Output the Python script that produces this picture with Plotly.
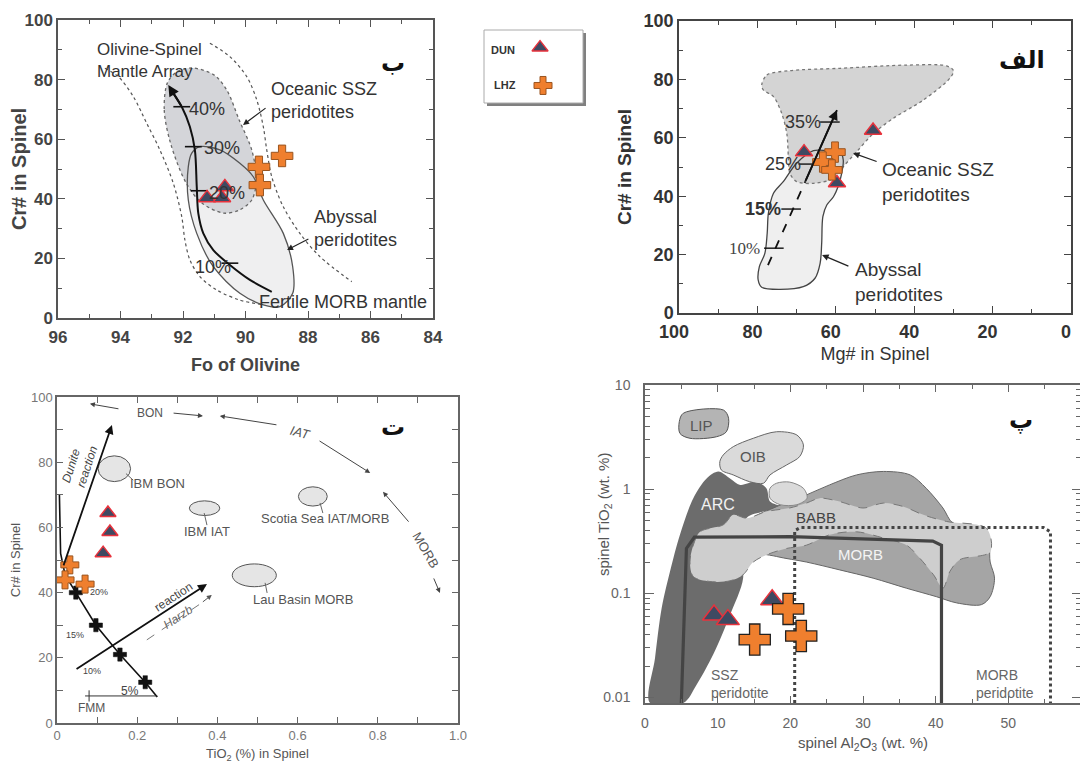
import math
import plotly.graph_objects as go

# page is shown with the browser's default 8px body margin -> draw in a figure offset by 8px
OFF = 8
FIG_W, FIG_H = 1088 - OFF, 763 - OFF

# ======================= DATA =======================
# ---- Panel ب : Fo of olivine vs Cr# in spinel ----
p1_dun_fo = [91.23, 90.75, 90.66]
p1_dun_cr = [40.3, 40.3, 44.0]
p1_lhz_fo = [89.57, 89.54, 88.83]
p1_lhz_cr = [50.7, 44.6, 54.4]

p1_oma_left_fo = [94.5, 94.07, 93.59, 93.16, 92.74, 92.31, 92.04, 91.94, 91.78, 91.46, 90.92, 90.18, 89.43]
p1_oma_left_cr = [83.8, 81.0, 74.3, 65.3, 56.4, 45.2, 34.0, 26.2, 19.5, 13.9, 9.4, 6.0, 4.4]
p1_oma_right_fo = [91.14, 90.5, 89.96, 89.64, 89.43, 89.32, 89.16, 88.79, 88.26, 87.62, 86.6]
p1_oma_right_cr = [92.2, 87.7, 81.0, 73.2, 64.2, 56.4, 47.4, 37.3, 28.4, 20.6, 12.2]

p1_ssz_fo = [92.5, 92.6, 92.4, 91.9, 91.4, 90.7, 90.2, 89.8, 89.65, 89.8, 90.2, 90.6, 91.0, 91.7, 92.2]
p1_ssz_cr = [78.9, 69.8, 58.7, 45.3, 38.6, 35.2, 36.2, 39.6, 46.3, 56.4, 66.4, 76.5, 81.5, 83.9, 82.6]
p1_aby_fo = [91.46, 90.82, 90.18, 89.75, 89.43, 88.79, 88.49, 88.49, 88.9, 89.43, 90.18, 91.03, 91.56, 91.83, 91.83, 91.72]
p1_aby_cr = [57.5, 56.4, 51.9, 47.4, 39.6, 28.4, 17.2, 8.3, 3.8, 4.4, 8.3, 17.2, 28.4, 39.6, 50.8, 55.3]

p1_melt_fo = [89.16, 89.86, 90.5, 91.03, 91.35, 91.51, 91.56, 91.62, 91.78, 92.04, 92.31, 92.47]
p1_melt_cr = [8.8, 12.8, 17.8, 22.8, 28.4, 35.1, 44.1, 56.4, 64.2, 70.9, 75.4, 78.2]
p1_mtick_fo = [90.5, 91.48, 91.67, 92.04]
p1_mtick_cr = [18.4, 42.7, 57.5, 70.9]
p1_mtick_lbl = ["10%", "20%", "30%", "40%"]
p1_mlbl_fo = [91.68, 91.23, 91.39, 91.87]
p1_mlbl_cr = [17.1, 42.1, 56.9, 70.3]

# ---- Panel الف : Mg# vs Cr# in spinel ----
p2_dun_mg = [68.1, 50.5, 59.7]
p2_dun_cr = [55.1, 62.5, 44.5]
p2_lhz_mg = [60.2, 63.3, 61.0]
p2_lhz_cr = [55.1, 51.7, 49.0]

p2_ssz_mg = [78.9, 77.6, 71.7, 58.9, 41.9, 31.7, 30.0, 30.9, 37.7, 45.3, 50.4, 54.7, 58.1, 60.6, 65.7, 70.0, 71.7, 72.1, 72.5, 73.8, 75.9, 78.5]
p2_ssz_cr = [78.1, 81.5, 83.0, 83.8, 84.9, 84.6, 83.0, 80.4, 72.9, 66.7, 61.5, 55.2, 50.1, 46.1, 44.4, 45.0, 47.8, 53.5, 61.5, 68.4, 74.1, 76.4]
p2_aby_mg = [62.3, 65.7, 70.0, 73.4, 75.9, 77.2, 77.5, 78.1, 79.5, 79.8, 78.9, 74.2, 68.3, 65.3, 64.0, 63.6, 63.3, 62.3, 60.6, 59.4, 58.5, 58.1, 58.9]
p2_aby_cr = [55.6, 55.6, 51.3, 45.0, 41.0, 34.1, 27.3, 20.4, 15.9, 11.3, 8.8, 8.1, 9.0, 11.9, 17.0, 23.9, 33.0, 37.0, 39.8, 43.3, 47.8, 52.4, 55.2]

p2_trend_mg = [77.3, 67.8, 59.7]
p2_trend_cr = [16.4, 45.0, 69.5]
p2_mtick_mg = [75.8, 71.4, 67.0, 61.5]
p2_mtick_cr = [22.2, 35.6, 51.0, 65.4]
p2_mtick_lbl = ["10%", "15%", "25%", "35%"]
p2_mlbl_mg = [78.8, 73.5, 68.4, 63.3]

# ---- Panel ت : TiO2 vs Cr# in spinel ----
p3_dun_ti = [0.127, 0.132, 0.115]
p3_dun_cr = [64.4, 58.6, 52.1]
p3_lhz_ti = [0.032, 0.020, 0.070]
p3_lhz_cr = [48.5, 43.9, 42.6]

p3_melt_ti = [0.25, 0.22, 0.157, 0.097, 0.047, 0.02, 0.009, 0.006]
p3_melt_cr = [8.0, 12.5, 21.0, 30.0, 40.0, 45.5, 52.0, 70.0]
p3_mcross_ti = [0.22, 0.157, 0.097, 0.047]
p3_mcross_cr = [12.5, 21.0, 30.0, 40.0]
p3_mlbl_ti = [0.182, 0.087, 0.045, 0.105]
p3_mlbl_cr = [9.8, 16.0, 27.0, 40.2]
p3_mlbl = ["5%", "10%", "15%", "20%"]
p3_fmm_ti = [0.07, 0.25]
p3_fmm_cr = [8.3, 8.3]

p3_field_name = ["IBM BON", "IBM IAT", "Scotia Sea IAT/MORB", "Lau Basin MORB"]
p3_field_ti = [0.143, 0.368, 0.638, 0.492]
p3_field_cr = [78.0, 65.9, 69.5, 45.3]
p3_field_wti = [0.081, 0.076, 0.072, 0.110]
p3_field_hcr = [7.9, 4.5, 5.9, 7.0]
p3_label_ti = [0.177, 0.374, 0.668, 0.614]
p3_label_cr = [73.6, 58.6, 62.8, 38.0]

# ---- Panel پ : Al2O3 vs TiO2 in spinel ----
p4_dun_al = [9.5, 11.4, 17.5]
p4_dun_ti = [0.062, 0.056, 0.087]
p4_lhz_al = [19.7, 15.1, 21.5]
p4_lhz_ti = [0.071, 0.036, 0.039]

p4_lip_al = [5.27, 10.8, 11.5, 11.2, 9.86, 6.19, 4.81, 4.72]
p4_lip_ti = [5.36, 5.75, 4.8, 3.56, 3.19, 3.08, 3.43, 4.45]
p4_oib_al = [10.77, 12.15, 14.9, 18.1, 20.9, 21.8, 21.3, 19.5, 17.2, 16.3, 14.4, 12.15, 10.5, 10.3]
p4_oib_ti = [2.13, 2.56, 3.08, 3.56, 3.31, 2.66, 2.06, 1.71, 1.37, 1.14, 1.18, 1.37, 1.53, 1.84]
p4_blob_al = [17.2, 18.1, 19.9, 21.8, 22.3, 20.9, 18.6, 17.2]
p4_blob_ti = [1.02, 1.14, 1.17, 1.02, 0.82, 0.71, 0.71, 0.82]
p4_arc_al = [0.69, 1.38, 2.29, 3.44, 4.81, 6.65, 8.48, 10.1, 11.7, 13.1, 15.3, 16.7, 17.2, 18.6, 16.3, 13.98, 13.1, 13.5, 11.7, 9.4, 7.1, 5.27]
p4_arc_ti = [0.00887, 0.024, 0.072, 0.162, 0.365, 0.82, 1.27, 1.48, 1.27, 1.10, 1.18, 1.02, 0.76, 0.68, 0.61, 0.53, 0.27, 0.14, 0.062, 0.026, 0.0133, 0.00887]
p4_morb_al = [18.1, 22.2, 25.4, 29.1, 32.8, 36.5, 38.7, 41.0, 42.4, 47.0, 47.5, 48.1, 47.5, 46.3, 42.9, 40.1, 36.0, 31.4, 26.8, 22.2, 18.1, 14.4, 14.4]
p4_morb_ti = [0.68, 0.88, 1.10, 1.37, 1.48, 1.37, 1.02, 0.66, 0.47, 0.39, 0.20, 0.14, 0.093, 0.078, 0.081, 0.093, 0.112, 0.14, 0.168, 0.20, 0.226, 0.27, 0.49]
p4_babb_al = [7.57, 10.77, 12.15, 13.98, 16.7, 19.9, 22.2, 24.07, 26.8, 30.0, 32.8, 35.6, 38.3, 41.5, 47.0, 47.5, 43.3, 41.95, 41.0, 39.7, 37.8, 36.0, 32.8, 29.1, 25.4, 22.2, 19.5, 16.7, 14.9, 13.5, 11.7, 8.94, 6.65, 6.19, 6.65]
p4_babb_ti = [0.39, 0.455, 0.567, 0.527, 0.61, 0.66, 0.735, 0.82, 0.76, 0.66, 0.735, 0.68, 0.567, 0.49, 0.42, 0.25, 0.21, 0.162, 0.112, 0.151, 0.218, 0.29, 0.34, 0.39, 0.365, 0.29, 0.27, 0.234, 0.20, 0.151, 0.132, 0.130, 0.145, 0.20, 0.29]
p4_sszbox_al = [5.0, 5.7, 6.8, 20.0, 39.6, 40.8, 40.8]
p4_sszbox_ti = [0.00887, 0.27, 0.347, 0.35, 0.318, 0.29, 0.00887]
p4_morbbox_al = [20.6, 20.6, 21.4, 54.8, 55.8, 55.8]
p4_morbbox_ti = [0.00887, 0.40, 0.43, 0.43, 0.39, 0.00887]

# ======================= STYLE =======================
TRI_FILL, TRI_LINE = "#3e4a62", "#e8323c"
CR_FILL, CR_LINE = "#ef7f2e", "#9a5520"
SANS = "Liberation Sans, Arial, sans-serif"
SERIF = "Liberation Serif, Times New Roman, serif"
ARAB = "DejaVu Sans, Noto Sans, sans-serif"

# plot areas in page pixels: (x_left, x_right), (y_bottom, y_top)
D = {
    1: ([58, 433], [318, 20]),
    2: ([679, 1071], [313, 21]),
    3: ([57, 458], [723, 397]),
    4: ([645, 1081], [703, 385]),
    5: ([484, 583], [103, 30]),
}


def fx(px):
    return (px - OFF) / FIG_W


def fy(py):
    return 1 - (py - OFF) / FIG_H


def dom(n):
    (x0, x1), (yb, yt) = D[n]
    return [fx(x0), fx(x1)], [fy(yb), fy(yt)]


def ax(n):
    return ("x" if n == 1 else f"x{n}", "y" if n == 1 else f"y{n}")


fig = go.Figure()
ann = []
shapes = []


def poly(n, xs, ys, fill=None, lc=None, dash="solid", width=1.0, spline=True, close=True):
    xa, ya = ax(n)
    xs, ys = list(xs), list(ys)
    if close:
        xs, ys = xs + [xs[0]], ys + [ys[0]]
    fig.add_trace(go.Scatter(
        x=xs, y=ys, xaxis=xa, yaxis=ya, mode="lines",
        fill="toself" if fill else "none", fillcolor=fill,
        line=dict(color=lc or "rgba(0,0,0,0)", width=width if lc else 0, dash=dash,
                  shape="spline" if spline else "linear", smoothing=0.9),
        hoverinfo="skip", showlegend=False))


def mk(n, xs, ys, symbol, size, fill, lc, lw):
    xa, ya = ax(n)
    fig.add_trace(go.Scatter(
        x=xs, y=ys, xaxis=xa, yaxis=ya, mode="markers",
        marker=dict(symbol=symbol, size=size, color=fill, line=dict(color=lc, width=lw)),
        hoverinfo="skip", showlegend=False))


def txt(n, x, y, text, size, color="#333", xa_="center", ya_="middle", angle=0,
        family=SANS, weight="normal", style="normal"):
    xr, yr = ax(n)
    ann.append(dict(x=x, y=y, xref=xr, yref=yr, text=text, showarrow=False,
                    xanchor=xa_, yanchor=ya_, textangle=angle, align="left",
                    font=dict(family=family, size=size, color=color, weight=weight, style=style)))


def arrow(n, tail, head, width=1.2, color="#222", head_style=2, size=1.0):
    xr, yr = ax(n)
    ann.append(dict(x=head[0], y=head[1], ax=tail[0], ay=tail[1], xref=xr, yref=yr,
                    axref=xr, ayref=yr, text="", showarrow=True, arrowhead=head_style,
                    arrowsize=size, arrowwidth=width, arrowcolor=color))


# ======================= PANEL 1 (ب) =======================
poly(1, p1_oma_left_fo, p1_oma_left_cr, lc="#555", dash="dot", width=1.2, close=False)
poly(1, p1_oma_right_fo, p1_oma_right_cr, lc="#555", dash="dot", width=1.2, close=False)
poly(1, p1_aby_fo, p1_aby_cr, fill="#efeff0")
poly(1, p1_ssz_fo, p1_ssz_cr, fill="#d4d5d9", lc="#666", dash="dot", width=1.3)
poly(1, p1_aby_fo, p1_aby_cr, lc="#555", width=1.3)
poly(1, p1_melt_fo[:-1], p1_melt_cr[:-1], lc="#111", width=2, close=False)
arrow(1, (p1_melt_fo[-3], p1_melt_cr[-3]), (p1_melt_fo[-1], p1_melt_cr[-1]), width=2, color="#111", size=1.1)
mk(1, p1_mtick_fo, p1_mtick_cr, "line-ew", 12, "#111", "#111", 1.6)
for xx, yy, t in zip(p1_mlbl_fo, p1_mlbl_cr, p1_mtick_lbl):
    txt(1, xx, yy, t, 18, "#333", xa_="left")
mk(1, p1_dun_fo, p1_dun_cr, "triangle-up", 15, TRI_FILL, TRI_LINE, 1.5)
mk(1, p1_lhz_fo, p1_lhz_cr, "cross", 18, CR_FILL, CR_LINE, 1)

txt(1, 94.82, 94, "Olivine-Spinel<br>Mantle Array", 17, "#333", xa_="left", ya_="top")
txt(1, 89.25, 81, "Oceanic SSZ<br>peridotites", 18, "#333", xa_="left", ya_="top")
txt(1, 87.87, 38, "Abyssal<br>peridotites", 18, "#333", xa_="left", ya_="top")
txt(1, 89.63, 5.4, "Fertile MORB mantle", 18, "#333", xa_="left")
txt(1, 85.28, 85.6, "ب", 24, "#111", family=ARAB, weight="bold")
arrow(1, (89.31, 70.8), (90.08, 64.8), width=1.2, color="#222")
arrow(1, (87.94, 26.8), (88.67, 22.8), width=1.2, color="#222")

# ======================= PANEL 2 (الف) =======================
poly(2, p2_aby_mg, p2_aby_cr, fill="#efefef")
poly(2, p2_ssz_mg, p2_ssz_cr, fill="#d4d4d4", lc="#777", dash="dot", width=1.3)
poly(2, p2_aby_mg, p2_aby_cr, lc="#444", width=1.3)
poly(2, p2_trend_mg[:2], p2_trend_cr[:2], lc="#111", dash="dash", width=1.8, spline=False, close=False)
poly(2, p2_trend_mg[1:], p2_trend_cr[1:], lc="#111", width=1.8, spline=False, close=False)
arrow(2, (p2_trend_mg[1], p2_trend_cr[1]), (p2_trend_mg[2], p2_trend_cr[2]), width=1.8, color="#111", size=1.1)
mk(2, p2_mtick_mg, p2_mtick_cr, "line-ew", 14, "#111", "#111", 1.4)
for xx, yy, t in zip(p2_mlbl_mg, p2_mtick_cr, p2_mtick_lbl):
    if t == "10%":
        txt(2, xx, yy, t, 17, "#444", xa_="right", family=SERIF)
    else:
        txt(2, xx, yy, t, 18, "#333", xa_="right", weight="bold" if t == "15%" else "normal")
mk(2, p2_dun_mg, p2_dun_cr, "triangle-up", 15, TRI_FILL, TRI_LINE, 1.5)
mk(2, p2_lhz_mg, p2_lhz_cr, "cross", 17, CR_FILL, CR_LINE, 1)
txt(2, 48.7, 53.5, "Oceanic SSZ<br>peridotites", 19, "#333", xa_="left", ya_="top")
txt(2, 55.6, 19.2, "Abyssal<br>peridotites", 19, "#333", xa_="left", ya_="top")
txt(2, 12.5, 86.6, "الف", 24, "#111", family=ARAB, weight="bold")
arrow(2, (49.2, 51.7), (55.6, 54.8), width=1.3, color="#222")
arrow(2, (56.4, 15.8), (63.5, 19.9), width=1.3, color="#222")

# ======================= PANEL 3 (ت) =======================
for cx, cy, w, h in zip(p3_field_ti, p3_field_cr, p3_field_wti, p3_field_hcr):
    shapes.append(dict(type="circle", xref="x3", yref="y3", x0=cx - w / 2, x1=cx + w / 2,
                       y0=cy - h / 2, y1=cy + h / 2, fillcolor="#e5e5e5",
                       line=dict(color="#555", width=1), layer="below"))
for name, lx, ly in zip(p3_field_name, p3_label_ti, p3_label_cr):
    txt(3, lx, ly, name, 13, "#555", xa_="left" if name == "IBM BON" else "center")
poly(3, [0.367, 0.374], [64.4, 60.7], lc="#666", width=1, spline=False, close=False)
poly(3, [0.656, 0.663], [67.5, 64.4], lc="#666", width=1, spline=False, close=False)
poly(3, [0.519, 0.524], [43.0, 39.9], lc="#666", width=1, spline=False, close=False)
poly(3, [0.172, 0.19], [76.5, 74.5], lc="#666", width=1, spline=False, close=False)

poly(3, p3_melt_ti, p3_melt_cr, lc="#111", width=1.6, spline=False, close=False)
poly(3, p3_fmm_ti, p3_fmm_cr, lc="#333", width=1, spline=False, close=False)
mk(3, [0.08], [8.3], "line-ns", 8, "#333", "#333", 1)
mk(3, p3_mcross_ti, p3_mcross_cr, "cross", 11, "#111", "#111", 0.5)
for xx, yy, t in zip(p3_mlbl_ti, p3_mlbl_cr, p3_mlbl):
    txt(3, xx, yy, t, 12 if t == "5%" else 9, "#444")
txt(3, 0.087, 4.6, "FMM", 12, "#555")

arrow(3, (0.015, 47.9), (0.137, 91.4), width=1.8, color="#111", size=1.0)
txt(3, 0.057, 79.5, "Dunite<br>reaction", 12, "#444", angle=-72, style="italic")
arrow(3, (0.045, 16.3), (0.374, 42.6), width=1.8, color="#111", size=1.0)
txt(3, 0.29, 38.7, "reaction", 12, "#444", angle=-33)
poly(3, [0.224, 0.37], [25.5, 37.6], lc="#777", dash="dash", width=1, spline=False, close=False)
arrow(3, (0.36, 36.8), (0.386, 39.3), width=1, color="#555")
txt(3, 0.302, 32.5, "Harzb", 12, "#666", angle=-33, style="italic")

txt(3, 0.232, 95.1, "BON", 12, "#555")
arrow(3, (0.157, 96.3), (0.082, 97.9), width=1, color="#444")
arrow(3, (0.287, 95.1), (0.364, 94.2), width=1, color="#444")
txt(3, 0.606, 89.0, "IAT", 13, "#555", angle=15, style="italic")
arrow(3, (0.551, 91.4), (0.406, 94.2), width=1, color="#444")
arrow(3, (0.651, 86.8), (0.781, 76.7), width=1, color="#444")
txt(3, 0.918, 53.1, "MORB", 13, "#555", angle=60)
arrow(3, (0.880, 61.3), (0.813, 70.9), width=1, color="#444")
arrow(3, (0.938, 44.8), (0.955, 39.9), width=1, color="#444")
txt(3, 0.838, 90.8, "ت", 24, "#111", family=ARAB, weight="bold")

mk(3, p3_dun_ti, p3_dun_cr, "triangle-up", 14, TRI_FILL, TRI_LINE, 1.5)
mk(3, p3_lhz_ti, p3_lhz_cr, "cross", 15, CR_FILL, CR_LINE, 1)

# ======================= PANEL 4 (پ) =======================
poly(4, p4_arc_al, p4_arc_ti, fill="#6c6c6c")
poly(4, p4_morb_al, p4_morb_ti, fill="#a5a5a5", lc="#666", width=1)
poly(4, p4_babb_al, p4_babb_ti, fill="#cecece", lc="#777", dash="dash", width=1)
poly(4, p4_lip_al, p4_lip_ti, fill="#b4b4b4", lc="#555", width=1)
poly(4, p4_oib_al, p4_oib_ti, fill="#dadada", lc="#666", width=1)
poly(4, p4_blob_al, p4_blob_ti, fill="#dadada", lc="#888", width=1)
poly(4, p4_sszbox_al, p4_sszbox_ti, lc="#444", width=3.2, spline=False, close=False)
poly(4, p4_morbbox_al, p4_morbbox_ti, lc="#444", dash="dot", width=3, spline=False, close=False)


def lg(v):
    return math.log10(v)


txt(4, 7.8, lg(4.13), "LIP", 15, "#555")
txt(4, 14.9, lg(2.06), "OIB", 15, "#555")
txt(4, 10.1, lg(0.71), "ARC", 16, "#f2f2f2")
txt(4, 23.6, lg(0.53), "BABB", 15, "#444")
txt(4, 29.6, lg(0.234), "MORB", 15, "#f4f4f4")
txt(4, 13.1, lg(0.0135), "SSZ<br>peridotite", 14, "#666")
txt(4, 49.5, lg(0.0135), "MORB<br>peridotite", 14, "#666")
txt(4, 51.8, lg(4.6), "پ", 24, "#111", family=ARAB, weight="bold")

mk(4, p4_dun_al, p4_dun_ti, "triangle-up", 20, TRI_FILL, TRI_LINE, 1.5)
mk(4, p4_lhz_al, p4_lhz_ti, "cross", 26, CR_FILL, "#222", 1.3)

# y title of panel 4 placed like the reference (closer than the tick labels allow)
ann.append(dict(x=fx(604), y=fy(515), xref="paper", yref="paper", text="spinel TiO<sub>2</sub> (wt. %)",
                showarrow=False, textangle=-90, xanchor="center", yanchor="middle",
                font=dict(family=SANS, size=15, color="#555")))

# ======================= LEGEND =======================
(lpx0, lpx1), (lpy1, lpy0) = D[5]
shapes.append(dict(type="rect", xref="paper", yref="paper", x0=fx(lpx0 + 3), x1=fx(lpx1 + 3),
                   y0=fy(lpy1 + 3), y1=fy(lpy0 + 3), fillcolor="#808080", line=dict(width=0), layer="below"))
shapes.append(dict(type="rect", xref="paper", yref="paper", x0=fx(lpx0), x1=fx(lpx1), y0=fy(lpy1), y1=fy(lpy0),
                   fillcolor="white", line=dict(color="#aaa", width=1), layer="below"))
mk(5, [0.566], [0.76], "triangle-up", 14, TRI_FILL, TRI_LINE, 1.3)
mk(5, [0.596], [0.24], "cross", 15, CR_FILL, CR_LINE, 1)
txt(5, 0.19, 0.73, "DUN", 11, "#333", weight="bold")
txt(5, 0.21, 0.24, "LHZ", 11, "#333", weight="bold")


# ======================= AXES =======================
def axis_common(rng, tickvals, ticktext, minor_vals, tfont, title, tfont_title, standoff,
                lc="#555", lw=1.5, tlen=7, mlen=4, typ="linear", lblstand=0, lblshift=0):
    return dict(range=rng, tickmode="array", tickvals=tickvals, ticktext=ticktext,
                ticks="inside", ticklen=tlen, tickwidth=1.3, tickcolor=lc,
                minor=dict(tickmode="array", tickvals=minor_vals, ticks="inside", ticklen=mlen,
                           tickwidth=1, tickcolor=lc, showgrid=False),
                showline=True, linecolor=lc, linewidth=lw, mirror="ticks",
                showgrid=False, zeroline=False, tickfont=tfont, automargin=False, type=typ,
                ticklabelstandoff=lblstand, ticklabelshift=lblshift,
                title=dict(text=title, font=tfont_title, standoff=standoff))


f1 = dict(family=SANS, size=17, color="#444", weight="bold")
f1t = dict(family=SANS, size=18, color="#444", weight="bold")
f1ty = dict(family=SANS, size=20, color="#444", weight="bold")
f2 = dict(family=SANS, size=18, color="#333", weight="bold")
f2t = dict(family=SANS, size=18, color="#333")
f2ty = dict(family=SANS, size=19, color="#333", weight="bold")
f3 = dict(family=SANS, size=13, color="#777")
f3t = dict(family=SANS, size=13, color="#555")
f4 = dict(family=SANS, size=14, color="#666")
f4t = dict(family=SANS, size=15, color="#555")

lay = {}
x, y = dom(1)
lay["xaxis"] = dict(axis_common([96, 84], [96, 94, 92, 90, 88, 86, 84], ["96", "94", "92", "90", "88", "86", "84"],
                                [95, 93, 91, 89, 87, 85], f1, "Fo of Olivine", f1t, 12, lblstand=3),
                    domain=x, anchor="y")
lay["yaxis"] = dict(axis_common([0, 100], [0, 20, 40, 60, 80, 100], ["0", "20", "40", "60", "80", "100"],
                                [10, 30, 50, 70, 90], f1, "Cr# in Spinel", f1ty, 1), domain=y, anchor="x")
x, y = dom(2)
lay["xaxis2"] = dict(axis_common([100, 0], [100, 80, 60, 40, 20, 0], ["100", "80", "60", "40", "20", "0"],
                                 [90, 70, 50, 30, 10], f2, "Mg# in Spinel", f2t, 6, lc="#444",
                                 lblstand=2, lblshift=5),
                     domain=x, anchor="y2")
lay["yaxis2"] = dict(axis_common([0, 100], [0, 20, 40, 60, 80, 100], ["0", "20", "40", "60", "80", "100"],
                                 [10, 30, 50, 70, 90], f2, "Cr# in Spinel", f2ty, 7, lc="#444"),
                     domain=y, anchor="x2")
x, y = dom(3)
lay["xaxis3"] = dict(axis_common([0, 1.0], [0, 0.2, 0.4, 0.6, 0.8, 1.0], ["0", "0.2", "0.4", "0.6", "0.8", "1.0"],
                                 [0.1, 0.3, 0.5, 0.7, 0.9], f3, "TiO<sub>2</sub> (%) in Spinel", f3t, 21,
                                 lc="#666", tlen=6, mlen=6), domain=x, anchor="y3")
lay["yaxis3"] = dict(axis_common([0, 100], [0, 20, 40, 60, 80, 100], ["0", "20", "40", "60", "80", "100"],
                                 [10, 30, 50, 70, 90], f3, "Cr# in Spinel", f3t, 8,
                                 lc="#666", tlen=6, mlen=6), domain=y, anchor="x3")
x, y = dom(4)
log_minor = [m * 10 ** e for e in (-3, -2, -1, 0) for m in range(2, 10)]
lay["xaxis4"] = dict(axis_common([0, 60], [0, 10, 20, 30, 40, 50, 60], ["0", "10", "20", "30", "40", "50", "60"],
                                 [5, 15, 25, 35, 45, 55], f4, "spinel Al<sub>2</sub>O<sub>3</sub> (wt. %)", f4t, 8,
                                 lc="#666", tlen=7, mlen=4, lblstand=6), domain=x, anchor="y4")
lay["yaxis4"] = dict(axis_common([math.log10(0.00887), 1], [0.01, 0.1, 1, 10], ["0.01", "0.1", "1", "10"],
                                 log_minor, f4, "", f4t, 2,
                                 lc="#666", tlen=9, mlen=5, typ="log", lblstand=10), domain=y, anchor="x4")
x, y = dom(5)
lay["xaxis5"] = dict(domain=x, anchor="y5", range=[0, 1], visible=False)
lay["yaxis5"] = dict(domain=y, anchor="x5", range=[0, 1], visible=False)

fig.update_layout(
    width=FIG_W, height=FIG_H, margin=dict(l=0, r=0, t=0, b=0),
    paper_bgcolor="white", plot_bgcolor="rgba(0,0,0,0)", showlegend=False,
    annotations=ann, shapes=shapes, **lay)

fig.write_html("out.html")
